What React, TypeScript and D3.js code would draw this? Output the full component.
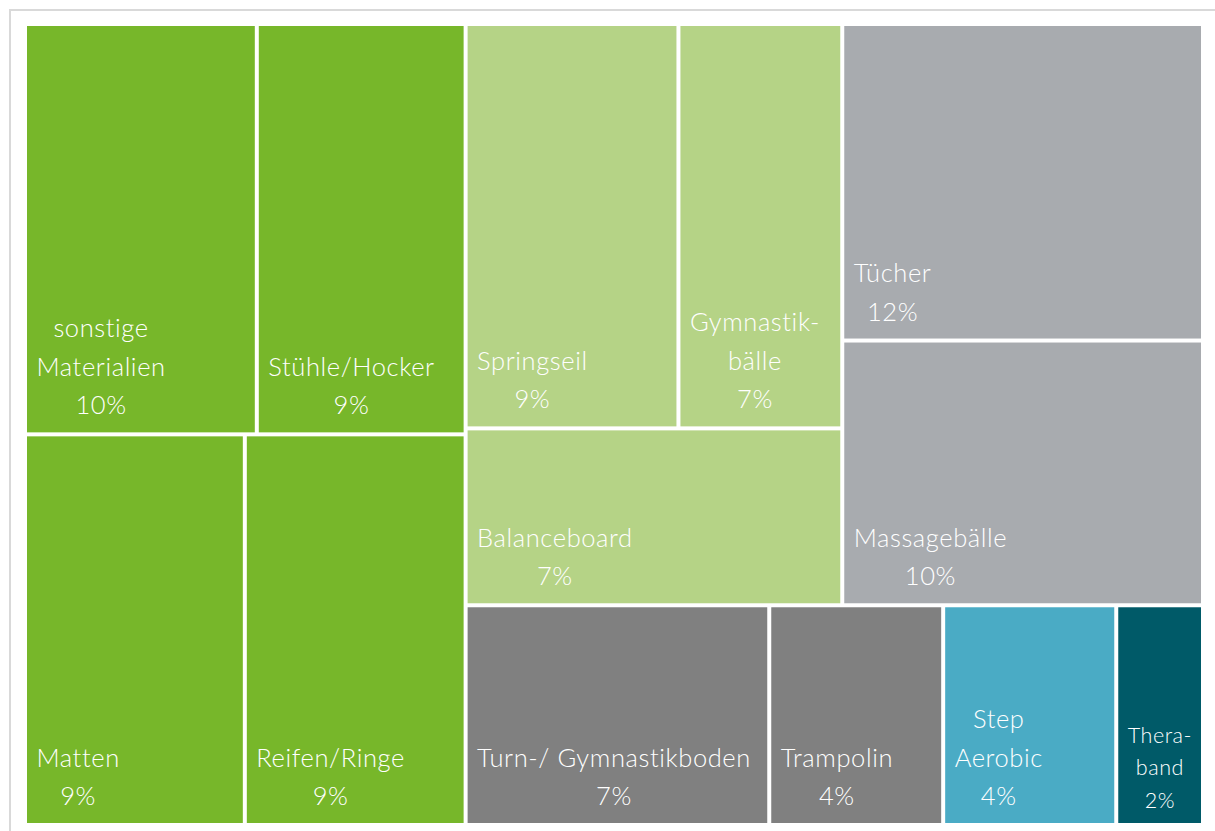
import React, { useEffect, useRef } from "react";
import * as d3 from "d3";

// ---- data ----
const categories = [
  "sonstige Materialien",
  "Stühle/Hocker",
  "Matten",
  "Reifen/Ringe",
  "Springseil",
  "Gymnastikbälle",
  "Balanceboard",
  "Tücher",
  "Massagebälle",
  "Turn-/ Gymnastikboden",
  "Trampolin",
  "Step Aerobic",
  "Theraband",
];
const values = [10.08, 9.08, 9.1, 9.14, 9.12, 7.02, 7.06, 12.1, 10.12, 7.07, 4.05, 4.03, 2.02];
const percentLabels = ["10%", "9%", "9%", "9%", "9%", "7%", "7%", "12%", "10%", "7%", "4%", "4%", "2%"];
const labelLines = [
  ["sonstige", "Materialien"],
  ["Stühle/Hocker"],
  ["Matten"],
  ["Reifen/Ringe"],
  ["Springseil"],
  ["Gymnastik-", "bälle"],
  ["Balanceboard"],
  ["Tücher"],
  ["Massagebälle"],
  ["Turn-/ Gymnastikboden"],
  ["Trampolin"],
  ["Step", "Aerobic"],
  ["Thera-", "band"],
];
const colorGroup = [0, 0, 0, 0, 1, 1, 1, 2, 2, 3, 3, 4, 5];
const groupColors = ["#77b72a", "#b5d386", "#a8abaf", "#808080", "#4aabc5", "#005a68"];
// nesting of the tiles (indices into the arrays above)
const layoutTree: any = [[[0, 1], [2, 3]], [[[[4, 5], 6], [7, 8]], [9, 10, 11, 12]]];

const W = 1215;
const H = 831;

export default function App() {
  const ref = useRef<SVGSVGElement | null>(null);

  useEffect(() => {
    const svg = d3.select(ref.current);
    svg.selectAll("*").remove();

    svg
      .append("rect")
      .attr("x", 10)
      .attr("y", 10)
      .attr("width", W)
      .attr("height", H)
      .attr("fill", "none")
      .attr("stroke", "#d9d9d9")
      .attr("stroke-width", 2);

    const root = d3
      .hierarchy<any>(layoutTree, (d: any) => (Array.isArray(d) ? d : undefined))
      .sum((d: any) => (Array.isArray(d) ? 0 : values[d]));

    d3.treemap<any>().tile(d3.treemapSliceDice).size([1174, 797]).paddingInner(4)(root);

    const g = svg.append("g").attr("transform", "translate(27,26)");
    const leaves = root.leaves() as any[];

    g.selectAll("rect.tile")
      .data(leaves)
      .join("rect")
      .attr("class", "tile")
      .attr("x", (d) => d.x0)
      .attr("y", (d) => d.y0)
      .attr("width", (d) => d.x1 - d.x0)
      .attr("height", (d) => d.y1 - d.y0)
      .attr("fill", (d) => groupColors[colorGroup[d.data]]);

    const baseFont = 25.5;
    const baseLH = 38.5;
    const baseBottom = 18;
    const padX = 9.5;
    const ls = 0.6;

    leaves.forEach((d) => {
      const i = d.data as number;
      const lines = [...labelLines[i], percentLabels[i]];
      const lg = g.append("g").attr("class", "label").attr("data-name", categories[i]);
      const texts = lines.map((t) =>
        lg
          .append("text")
          .attr("fill", "#ffffff")
          .attr("font-family", "Lato, 'Open Sans', sans-serif")
          .attr("font-weight", 300)
          .attr("font-size", baseFont)
          .attr("letter-spacing", ls)
          .attr("text-anchor", "middle")
          .text(t)
      );
      const widths = texts.map((t) => (t.node() as SVGTextElement).getComputedTextLength() - ls);
      let maxW = Math.max(...widths);
      const avail = d.x1 - d.x0 - 2 * padX;
      const s = maxW > avail ? avail / maxW : 1;
      maxW *= s;
      const cx = d.x0 + padX + maxW / 2 + (ls * s) / 2;
      const n = lines.length;
      texts.forEach((t, k) => {
        t.attr("font-size", baseFont * s)
          .attr("letter-spacing", ls * s)
          .attr("x", cx)
          .attr("y", d.y1 - baseBottom * s - (n - 1 - k) * baseLH * s);
      });
    });
  }, []);

  return (
    <svg
      ref={ref}
      width={W}
      height={H}
      style={{ position: "fixed", left: 0, top: 0, display: "block", background: "#ffffff" }}
    />
  );
}
